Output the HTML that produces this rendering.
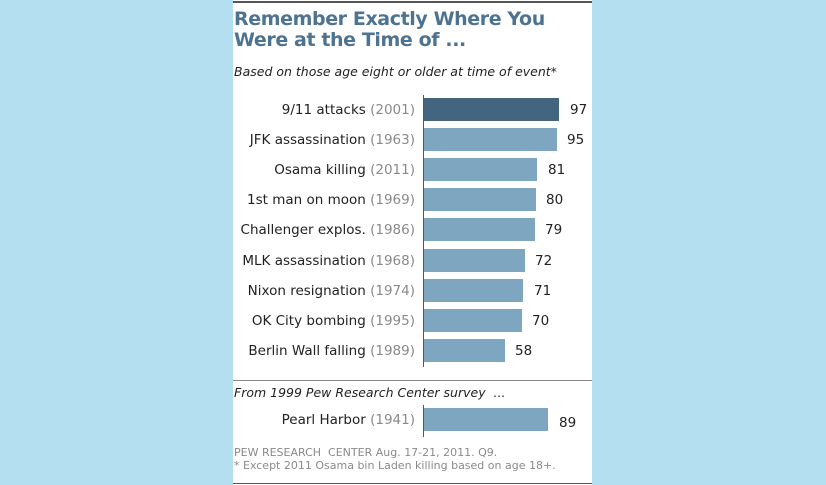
<!DOCTYPE html>
<html><head><style>
body{margin:0;width:826px;height:485px;background:#b3dff0;position:relative;overflow:hidden;font-family:"DejaVu Sans","Liberation Sans",sans-serif;}
#p{position:absolute;left:233px;top:0;width:359px;height:485px;background:#fff;}
.t{position:absolute;left:234px;top:9px;font-size:19px;font-weight:bold;color:#4e7391;line-height:21px;letter-spacing:-0.4px}
.s{position:absolute;left:234px;font-style:italic;font-size:12.5px;color:#222;white-space:nowrap}
.l{position:absolute;right:411px;font-size:13.5px;color:#222;white-space:nowrap}
.l span{color:#8a8a8a}
.b{position:absolute;left:424px;height:23px;background:#7fa6c1}
.v{position:absolute;font-size:13.5px;color:#222}
.f{position:absolute;left:234px;font-size:11px;color:#8a8a8a;white-space:nowrap}
</style></head><body>
<div id="p"></div>
<div style="position:absolute;left:233px;top:1px;width:359px;height:2px;background:#555"></div>
<div class="t">Remember Exactly Where You<br>Were at the Time of ...</div>
<div class="s" style="top:64px">Based on those age eight or older at time of event*</div>
<div style="position:absolute;left:423px;top:95px;width:1px;height:272px;background:#555"></div>
<div class="l" style="top:102px">9/11 attacks <span>(2001)</span></div><div class="b" style="top:98px;width:135px;background:#43657f"></div><div class="v" style="top:102px;left:570px">97</div>
<div class="l" style="top:132px">JFK assassination <span>(1963)</span></div><div class="b" style="top:128px;width:133px"></div><div class="v" style="top:132px;left:567px">95</div>
<div class="l" style="top:162px">Osama killing <span>(2011)</span></div><div class="b" style="top:158px;width:113px"></div><div class="v" style="top:162px;left:548px">81</div>
<div class="l" style="top:192px">1st man on moon <span>(1969)</span></div><div class="b" style="top:188px;width:112px"></div><div class="v" style="top:192px;left:546px">80</div>
<div class="l" style="top:222px">Challenger explos. <span>(1986)</span></div><div class="b" style="top:218px;width:111px"></div><div class="v" style="top:222px;left:545px">79</div>
<div class="l" style="top:253px">MLK assassination <span>(1968)</span></div><div class="b" style="top:249px;width:101px"></div><div class="v" style="top:253px;left:535px">72</div>
<div class="l" style="top:283px">Nixon resignation <span>(1974)</span></div><div class="b" style="top:279px;width:99px"></div><div class="v" style="top:283px;left:534px">71</div>
<div class="l" style="top:313px">OK City bombing <span>(1995)</span></div><div class="b" style="top:309px;width:98px"></div><div class="v" style="top:313px;left:532px">70</div>
<div class="l" style="top:343px">Berlin Wall falling <span>(1989)</span></div><div class="b" style="top:339px;width:81px"></div><div class="v" style="top:343px;left:515px">58</div>
<div style="position:absolute;left:233px;top:380px;width:359px;height:1px;background:#888"></div>
<div class="s" style="top:385px">From 1999 Pew Research Center survey &nbsp;...</div>
<div style="position:absolute;left:423px;top:405px;width:1px;height:32px;background:#555"></div>
<div class="l" style="top:412px">Pearl Harbor <span>(1941)</span></div><div class="b" style="top:408px;width:124px"></div><div class="v" style="top:415px;left:559px">89</div>
<div class="f" style="top:446px">PEW RESEARCH &nbsp;CENTER Aug. 17-21, 2011. Q9.</div>
<div class="f" style="top:459px">* Except 2011 Osama bin Laden killing based on age 18+.</div>
<div style="position:absolute;left:233px;top:483px;width:359px;height:1px;background:#555"></div>
</body></html>
